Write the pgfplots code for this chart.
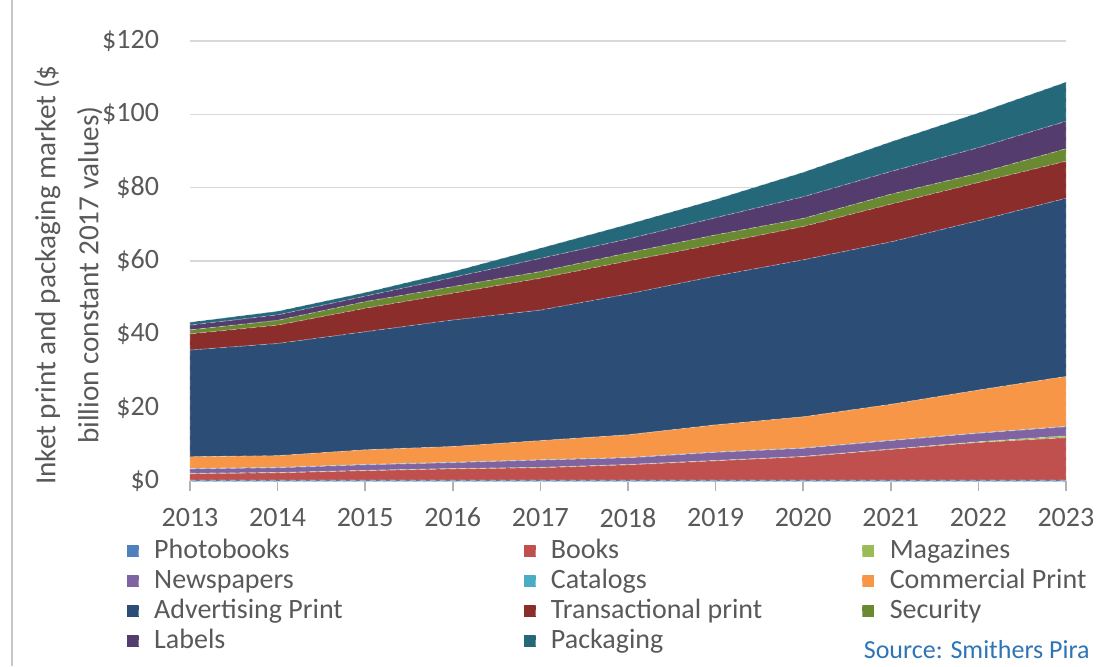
\documentclass[border=0pt]{standalone}
\usepackage{pgfplots}
\pgfplotsset{compat=1.18}
\usepackage{pgfplotstable}
\usepackage{fontspec}
\setmainfont{Carlito}

\definecolor{txt}{HTML}{595959}
\definecolor{cPhoto}{HTML}{4F81BD}
\definecolor{cBooks}{HTML}{C0504D}
\definecolor{cMags}{HTML}{9BBB59}
\definecolor{cNews}{HTML}{8064A2}
\definecolor{cCat}{HTML}{4BACC6}
\definecolor{cComm}{HTML}{F79646}
\definecolor{cAdv}{HTML}{2C4D75}
\definecolor{cTrans}{HTML}{8A2D2B}
\definecolor{cSec}{HTML}{6A8A32}
\definecolor{cLab}{HTML}{553C6E}
\definecolor{cPack}{HTML}{25687A}
\definecolor{src}{HTML}{2E75B6}

% values in $ billion, one column per segment
\pgfplotstableread{
year P   B    M   N   C   CP   A    T    S   L   Pk
2013 0.3 1.7  0.1 1.2 0.1 3.2  29.1 4.4  1.1 1.3 0.8
2014 0.3 1.9  0.1 1.3 0.1 3.2  30.6 5.0  1.3 1.5 1.0
2015 0.3 2.5  0.1 1.5 0.1 4.0  32.2 6.4  1.8 1.5 1.0
2016 0.3 3.0  0.1 1.6 0.1 4.3  34.5 7.3  1.8 2.5 1.6
2017 0.3 3.3  0.1 2.0 0.1 5.2  35.6 8.7  1.8 3.6 2.8
2018 0.3 4.1  0.1 1.8 0.1 6.2  38.4 9.0  2.2 3.8 4.0
2019 0.3 5.2  0.1 2.2 0.1 7.4  40.6 8.7  2.5 4.7 5.0
2020 0.3 6.3  0.1 2.2 0.1 8.5  42.8 9.1  2.2 5.9 6.7
2021 0.3 8.3  0.1 2.3 0.1 9.8  44.3 10.3 2.7 6.2 8.1
2022 0.3 10.2 0.2 2.3 0.1 11.7 46.2 10.4 2.5 7.0 9.5
2023 0.3 11.5 0.5 2.5 0.1 13.6 48.6 10.1 3.4 7.5 10.7
}\datatable

\begin{document}
\begin{tikzpicture}[font=\fontsize{14}{16.8}\selectfont]
\useasboundingbox (-95pt,-92.5pt) rectangle (455.5pt,240.5pt);
\draw[black!22, line width=1.4pt] (-89pt,-92.5pt) -- (-89pt,240.5pt);
\begin{axis}[
    scale only axis,
    width=438pt, height=220pt,
    xmin=2013, xmax=2023,
    ymin=0, ymax=120,
    xtick={2013,...,2023},
    ytick={0,20,...,120},
    x tick label style={/pgf/number format/1000 sep={}, yshift=-5pt},
    yticklabel={\$\pgfmathprintnumber{\tick}},
    yticklabel style={xshift=-7pt},
    /pgf/number format/assume math mode=true,
    tick label style={text=txt},
    axis x line*=bottom,
    axis y line*=left,
    y axis line style={draw=none},
    ytick style={draw=none},
    x axis line style={draw=black!25, line width=0.8pt},
    xtick style={draw=black!30, line width=0.8pt},
    tick align=outside,
    major tick length=5pt,
    ymajorgrids,
    grid style={draw=black!15, line width=0.8pt},
    stack plots=y,
    ylabel={Inket print and packaging market (\$\\billion constant 2017 values)},
    ylabel style={at={(axis description cs:-0.139,0.468)}, anchor=center,
        align=center, text=txt, font=\fontsize{14.6}{21.5}\selectfont},
    legend columns=3,
    legend cell align=left,
    legend image code/.code={\fill[#1] (0pt,-3pt) rectangle (6pt,3.3pt);},
    legend style={at={(axis description cs:0,0)}, anchor=north west,
        xshift=-35pt, yshift=-26.5pt, draw=none, fill=none, text=txt,
        font=\fontsize{14}{16.8}\selectfont,
        nodes={inner sep=0pt, text height=10pt, text depth=3pt},
        row sep=2pt,
        /tikz/every odd column/.append style={column sep=7.5pt},
        /tikz/every even column/.append style={column sep=0pt}},
    every axis plot/.append style={draw=white, draw opacity=0.35,
        densely dashed, line width=0.4pt},
]
\addplot[fill=cPhoto] table[x=year,y=P] {\datatable} \closedcycle;
\addlegendentry{\makebox[184.5pt][l]{Photobooks}}
\addplot[fill=cBooks] table[x=year,y=B] {\datatable} \closedcycle;
\addlegendentry{\makebox[155.5pt][l]{Books}}
\addplot[fill=cMags] table[x=year,y=M] {\datatable} \closedcycle;
\addlegendentry{Magazines}
\addplot[fill=cNews] table[x=year,y=N] {\datatable} \closedcycle;
\addlegendentry{\makebox[184.5pt][l]{Newspapers}}
\addplot[fill=cCat] table[x=year,y=C] {\datatable} \closedcycle;
\addlegendentry{\makebox[155.5pt][l]{Catalogs}}
\addplot[fill=cComm] table[x=year,y=CP] {\datatable} \closedcycle;
\addlegendentry{Commercial Print}
\addplot[fill=cAdv] table[x=year,y=A] {\datatable} \closedcycle;
\addlegendentry{\makebox[184.5pt][l]{Advertising Print}}
\addplot[fill=cTrans] table[x=year,y=T] {\datatable} \closedcycle;
\addlegendentry{\makebox[155.5pt][l]{Transactional print}}
\addplot[fill=cSec] table[x=year,y=S] {\datatable} \closedcycle;
\addlegendentry{Security}
\addplot[fill=cLab] table[x=year,y=L] {\datatable} \closedcycle;
\addlegendentry{\makebox[184.5pt][l]{Labels}}
\addplot[fill=cPack] table[x=year,y=Pk] {\datatable} \closedcycle;
\addlegendentry{\makebox[155.5pt][l]{Packaging}}
\end{axis}
\node[anchor=east, text=src, inner sep=0pt, font=\fontsize{13}{15.6}\selectfont]
    at (450pt,-84.5pt) {Source: Smithers Pira};
\end{tikzpicture}
\end{document}
